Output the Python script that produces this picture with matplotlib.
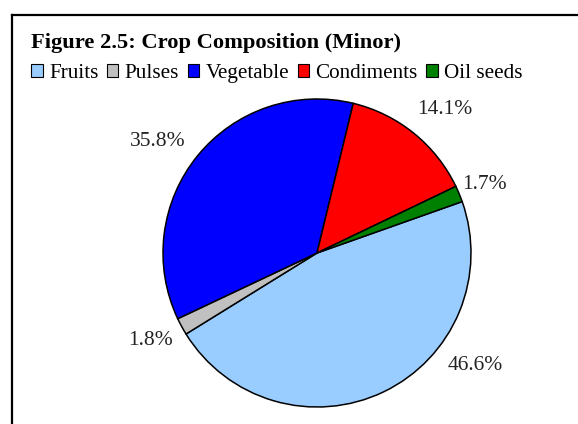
import matplotlib
matplotlib.use("Agg")
import matplotlib.pyplot as plt
from matplotlib.lines import Line2D
from matplotlib.patches import Patch

# data
categories = ["Fruits", "Pulses", "Vegetable", "Condiments", "Oil seeds"]
shares = [46.6, 1.8, 35.8, 14.1, 1.7]
colors = ["#99CCFF", "#C0C0C0", "#0000FF", "#FF0000", "#008000"]

# label placement (pie radius = 1), Excel-style outside labels
label_xy = [(1.03, -0.73), (-1.08, -0.565), (-1.035, 0.725), (0.83, 0.935), (1.09, 0.446)]

W, H = 578, 424
cx, cy, r = 317, 253, 154  # pie centre / radius in pixels

plt.rcParams["font.family"] = ["Liberation Serif", "DejaVu Serif"]

fig = plt.figure(figsize=(W / 100, H / 100), dpi=100)
ax = fig.add_axes([0, 0, 1, 1])

wedges, _ = ax.pie(
    shares,
    colors=colors,
    startangle=19.5,
    counterclock=False,
    radius=1.0,
    wedgeprops={"edgecolor": "black", "linewidth": 1.1},
)

for val, (x, y) in zip(shares, label_xy):
    ax.text(x, y, f"{val:.1f}%", ha="center", va="center", fontsize=15.5, color="#222222")

ax.set_xlim(-cx / r, (W - cx) / r)
ax.set_ylim(-(H - cy) / r, cy / r)
ax.set_aspect("auto")
ax.axis("off")

# chart frame (only top and left edges are visible in the crop)
fig.add_artist(Line2D([12 / W, 12 / W], [-0.01, 1 - 15 / H], transform=fig.transFigure,
                      color="black", linewidth=1.6, solid_capstyle="projecting"))
fig.add_artist(Line2D([12 / W, 1.01], [1 - 15 / H, 1 - 15 / H], transform=fig.transFigure,
                      color="black", linewidth=1.6, solid_capstyle="projecting"))

fig.text(31 / W, 1 - 48 / H, "Figure 2.5: Crop Composition (Minor)", fontsize=16.2,
         fontweight="bold", ha="left", va="baseline")

handles = [Patch(facecolor=c, edgecolor="black", linewidth=0.8) for c in colors]
fig.legend(handles, categories, loc="upper left", bbox_to_anchor=(31 / W, 1 - 64 / H),
           ncol=5, frameon=False, fontsize=15.2, handlelength=0.55, handleheight=0.55,
           handletextpad=0.3, columnspacing=0.4, borderaxespad=0, borderpad=0)

fig.savefig("out.png", dpi=100)
